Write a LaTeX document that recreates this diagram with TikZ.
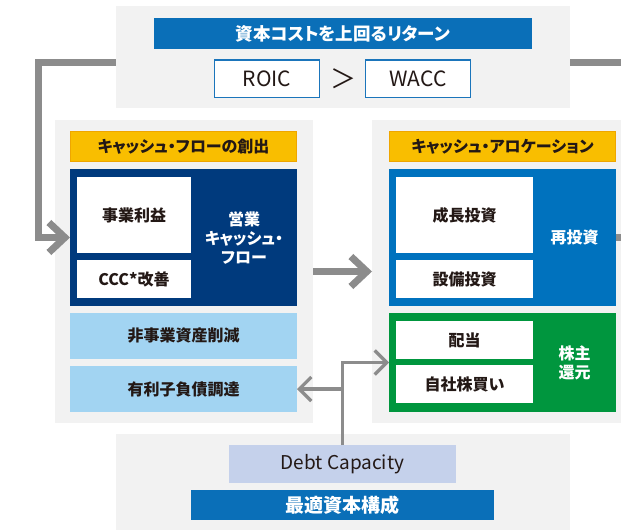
\documentclass[tikz,border=0pt]{standalone}
\usepackage{fontspec}
\setmainfont{Noto Sans CJK JP}[RawFeature=+palt]
\usetikzlibrary{positioning,arrows.meta}

\definecolor{panelgray}{HTML}{F2F2F2}
\definecolor{barblue}{HTML}{0A6FB8}
\definecolor{frameblue}{HTML}{1B75BB}
\definecolor{headyellow}{HTML}{F9BE00}
\definecolor{headedge}{HTML}{EFA600}
\definecolor{navy}{HTML}{003A7D}
\definecolor{reinvblue}{HTML}{0072BE}
\definecolor{paleblue}{HTML}{A2D4F2}
\definecolor{retgreen}{HTML}{00963E}
\definecolor{debtblue}{HTML}{C5D1EB}
\definecolor{arrowgray}{HTML}{8C8C8C}
\definecolor{ink}{HTML}{231815}

\begin{document}
\begin{tikzpicture}[x=1pt, y=-1pt,
    panel/.style={fill=panelgray, inner sep=0pt, outer sep=0pt},
    fillbox/.style={inner sep=0pt, outer sep=0pt, minimum width=227pt},
    headbox/.style={fill=headyellow, draw=headedge, line width=0.6pt, text=ink,
        inner sep=0pt, outer sep=0pt, minimum width=226pt, minimum height=30pt,
        font=\fontsize{16}{18}\selectfont\bfseries},
    whitebox/.style={fill=white, text=ink, inner sep=0pt, outer sep=0pt,
        font=\fontsize{16}{18}\selectfont\bfseries},
    whitetext/.style={text=white, align=center, inner sep=0pt,
        font=\fontsize{16}{19}\selectfont\bfseries},
    palebox/.style={fill=paleblue, text=ink, inner sep=0pt, outer sep=0pt,
        minimum width=227pt, minimum height=46pt,
        font=\fontsize{16}{18}\selectfont\bfseries},
    barbox/.style={fill=barblue, text=white, inner sep=0pt, outer sep=0pt},
    framebox/.style={fill=white, draw=frameblue, line width=1.5pt, text=ink,
        inner sep=0pt, outer sep=0pt, minimum width=105pt, minimum height=37.5pt,
        font=\fontsize{21}{23}\selectfont},
    thickarrow/.style={draw=arrowgray, line width=7pt,
        -{Straight Barb[length=16pt, width=30pt]}},
    thinarrow/.style={draw=arrowgray, line width=3.2pt,
        -{Straight Barb[length=12pt, width=24pt]}}
    ]
    \useasboundingbox (0,0) rectangle (621,530);

    %Panels
    \node[panel, minimum width=258pt, minimum height=303pt] (cfpanel) at (184,271.5) {};
    \node[panel, minimum width=260pt, minimum height=303pt] (capanel) at (502,271.5) {};

    %Cash flow creation
    \node[headbox] (cfhead) at (183.5,146.5) {キャッシュ・フローの創出};
    \node[fillbox, fill=navy, minimum height=137pt] (opcf) at (183.5,237.5) {};
    \node[whitebox, minimum width=114pt, minimum height=76pt] (jigyo) at (134,215) {事業利益};
    \node[whitebox, minimum width=114pt, minimum height=38pt, below=7pt of jigyo] (ccc) {CCC*改善};
    \node[whitetext] (opcflbl) at (244,238) {営業\\キャッシュ・\\フロー};
    \node[palebox] (hijigyo) at (183.5,336) {非事業資産削減};
    \node[palebox, below=7pt of hijigyo] (yuurishi) {有利子負債調達};

    %Cash allocation
    \node[headbox] (cahead) at (502.5,146.5) {キャッシュ・アロケーション};
    \node[fillbox, fill=reinvblue, minimum height=137pt] (reinv) at (502.5,237.5) {};
    \node[whitebox, minimum width=137pt, minimum height=76pt] (seicho) at (464.5,215) {成長投資};
    \node[whitebox, minimum width=137pt, minimum height=38pt, below=7pt of seicho] (setsubi) {設備投資};
    \node[whitetext] (reinvlbl) at (574.5,237.5) {再投資};
    \node[fillbox, fill=retgreen, minimum height=99pt] (shhold) at (502.5,362.5) {};
    \node[whitebox, minimum width=137pt, minimum height=38pt] (haito) at (464.5,340) {配当};
    \node[whitebox, minimum width=137pt, minimum height=38pt, below=6pt of haito] (jisha) {自社株買い};
    \node[whitetext] (shholdlbl) at (574.5,363) {株主\\還元};

    %Loop back and flow
    \coordinate (loopne) at (640,62);
    \coordinate (loopnw) at (38,62);
    \draw[thickarrow] (reinv.east) -| (loopne) -- (loopnw) |- (opcf.west);
    \draw[thickarrow] (cfpanel.east) -- (capanel.west);

    %Return over cost of capital
    \node[panel, minimum width=454pt, minimum height=102pt] (toppanel) at (343,57) {};
    \node[barbox, minimum width=378pt, minimum height=31pt,
        font=\fontsize{17.5}{19}\selectfont\bfseries] (rethead) at (343,33.5) {資本コストを上回るリターン};
    \node[framebox] (roic) at (267,78.5) {ROIC};
    \node[framebox, right=46pt of roic] (wacc) {WACC};
    \node[text=ink, inner sep=0pt, font=\fontsize{26}{28}\selectfont] (gt) at (343,78.5) {＞};

    %Optimal capital structure
    \node[panel, minimum width=454pt, minimum height=96pt] (btmpanel) at (343,482) {};
    \node[fill=debtblue, text=ink, inner sep=0pt, outer sep=0pt,
        minimum width=227pt, minimum height=38pt,
        font=\fontsize{19}{21}\selectfont] (debtcap) at (342.5,464) {Debt Capacity};
    \node[barbox, minimum width=303pt, minimum height=30pt,
        font=\fontsize{19}{21}\selectfont\bfseries] (optcap) at (342.5,505) {最適資本構成};

    %Debt capacity arrows
    \draw[thinarrow] (debtcap.north) |- (shhold.west);
    \draw[thinarrow] (debtcap.north |- yuurishi.east) -- (yuurishi.east);
\end{tikzpicture}
\end{document}
